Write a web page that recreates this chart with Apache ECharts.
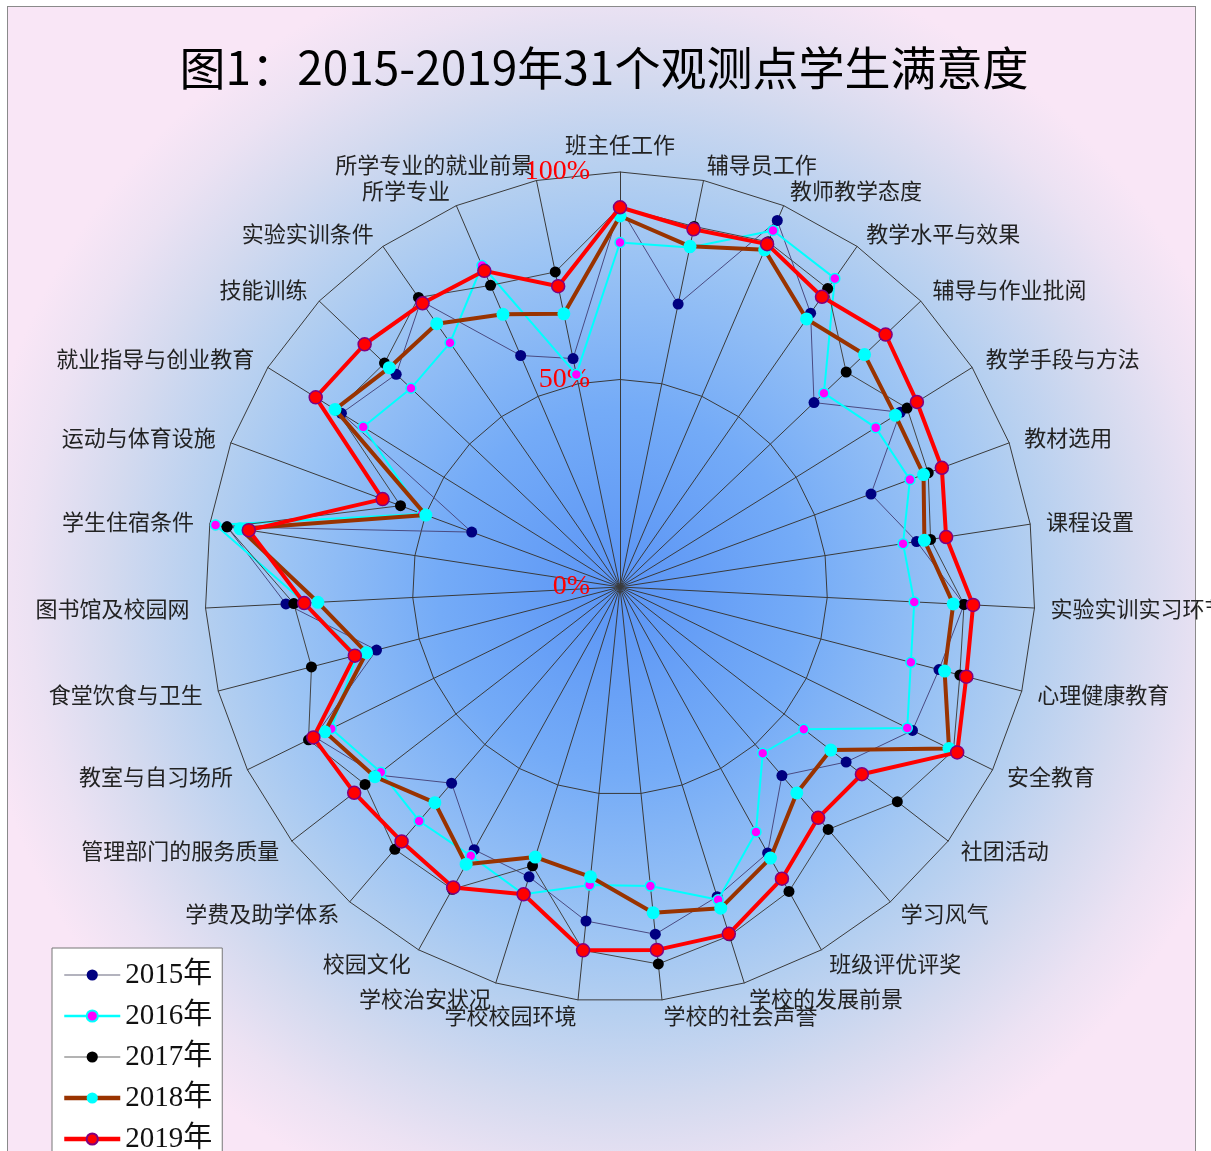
<!DOCTYPE html>
<html><head><meta charset="utf-8">
<script src="https://cdn.jsdelivr.net/npm/echarts@6/dist/echarts.min.js"></script>
<style>
html,body{margin:0;padding:0;background:#fff;width:1211px;height:1151px;overflow:hidden;}
#bg{position:absolute;left:7px;top:6px;width:1187px;height:1170px;border:1px solid #8a8a8a;
background: radial-gradient(circle 650px at 613px 584px, #5a94f5 0%, #74abf7 28%, #9cc4f4 52%, #b4cff0 64%, #d4daef 79%, #ece2f3 91%, #f9e6f6 100%);}
#chart{position:absolute;left:0;top:0;width:1211px;height:1151px;}
</style></head>
<body>
<div id="bg"></div>
<div id="chart"></div>
<script>
const indicatorNames = ['班主任工作','辅导员工作','教师教学态度','教学水平与效果','辅导与作业批阅','教学手段与方法','教材选用','课程设置','实验实训实习环节','心理健康教育','安全教育','社团活动','学习风气','班级评优评奖','学校的发展前景','学校的社会声誉','学校校园环境','学校治安状况','校园文化','学费及助学体系','管理部门的服务质量','教室与自习场所','食堂饮食与卫生','图书馆及校园网','学生住宿条件','运动与体育设施','就业指导与创业教育','技能训练','实验实训条件','所学专业','所学专业的就业前景'];
const seriesNames = ['2015年','2016年','2017年','2018年','2019年'];
const v2015 = [91.5,69.6,96.1,80.4,64.5,79.6,64.5,72.3,83.0,79.4,78.5,68.9,59.9,73.3,78.2,84.1,80.9,73.2,72.4,62.3,74.0,82.0,60.6,80.6,95.8,38.1,79.1,74.4,84.0,60.7,56.2];
const v2016 = [83.0,83.5,93.5,90.6,67.8,72.6,74.5,69.0,71.0,72.4,77.1,56.0,52.8,67.5,79.0,72.4,72.2,77.6,74.1,74.3,72.9,77.5,65.5,76.0,98.6,50.8,72.9,69.5,71.7,84.3,52.3];
const v2017 = [91.5,88.7,90.5,87.6,75.2,81.5,79.2,75.7,83.0,84.6,89.5,84.5,77.0,83.9,88.1,91.3,88.0,70.4,83.3,83.3,77.7,83.6,76.8,78.7,95.8,56.4,80.5,78.3,85.0,79.1,77.5];
const v2018 = [89.4,83.8,88.4,78.7,81.3,78.2,78.0,74.2,80.4,80.8,88.3,64.2,65.4,74.7,81.1,78.9,70.2,68.2,76.4,68.5,74.7,79.2,63.1,72.9,92.6,49.9,80.9,76.7,77.3,71.5,67.2];
const v2019 = [91.5,88.0,89.9,85.2,88.3,84.3,82.7,79.5,85.2,86.2,90.5,73.7,73.3,80.4,87.6,87.9,88.0,77.6,82.8,80.8,81.0,82.3,66.0,76.2,90.5,61.0,86.4,84.9,83.3,82.9,74.0];
const scaleMin = 0, scaleMax = 100, scaleInterval = 50;

// ECharts radar runs counter-clockwise; reorder to get clockwise layout
const order = [0];
for (let i = indicatorNames.length - 1; i >= 1; i--) order.push(i);
const reorder = arr => order.map(i => arr[i]);

const styles = [
  {line:{color:'#4a4a80',width:1}, legendLine:{color:'#9a9aa8',width:1.5}, item:{color:'#000080',borderWidth:0}, size:11},
  {line:{color:'#00ffff',width:2}, legendLine:{color:'#00ffff',width:2.5}, item:{color:'#ff00ff',borderColor:'#00ffff',borderWidth:1.5}, size:10},
  {line:{color:'#444444',width:1}, legendLine:{color:'#9a9a9a',width:1.5}, item:{color:'#000000',borderWidth:0}, size:11},
  {line:{color:'#993300',width:4}, legendLine:{color:'#993300',width:4.5}, item:{color:'#00ffff',borderWidth:0}, size:13},
  {line:{color:'#ff0000',width:4}, legendLine:{color:'#ff0000',width:4.5}, item:{color:'#ff0000',borderColor:'#800080',borderWidth:1.5}, size:13}
];
const allValues = [v2015,v2016,v2017,v2018,v2019];

const chart = echarts.init(document.getElementById('chart'), null, {renderer:'canvas'});
const legendSeries = seriesNames.map((n,i)=>({
  type:'line', name:n, xAxisIndex:0, yAxisIndex:0, data:[],
  symbol:'circle', symbolSize:styles[i].size,
  lineStyle:styles[i].legendLine, itemStyle:styles[i].item
}));
const radarSeries = seriesNames.map((n,i)=>({
  type:'radar', name:n, radarIndex:0, z:3+i,
  symbol:'circle', symbolSize:styles[i].size,
  lineStyle:styles[i].line, itemStyle:styles[i].item,
  emphasis:{disabled:true},
  data:[{name:n, value:reorder(allValues[i])}]
}));

chart.setOption({
  backgroundColor:'transparent',
  animation:false,
  title:{
    text:'图1：2015-2019年31个观测点学生满意度',
    left:599, top:40, textAlign:'center',
    textStyle:{fontSize:46, fontWeight:'normal', color:'#000', fontFamily:'Noto Sans CJK SC'}
  },
  legend:{
    data:seriesNames.map((n,i)=>({name:n, lineStyle:styles[i].legendLine})),
    orient:'vertical', left:52, top:948, height:260,
    padding:[12,10,8,10], itemGap:11, itemWidth:56, itemHeight:14,
    backgroundColor:'#ffffff', borderColor:'#777', borderWidth:1, borderRadius:0,
    textStyle:{fontSize:29, lineHeight:30, color:'#111', fontFamily:'Liberation Serif, "Noto Sans CJK SC"'},
    selectedMode:false
  },
  grid:{left:0, top:0, width:5, height:5, show:false},
  xAxis:{type:'category', show:false, data:[]},
  yAxis:{type:'value', show:false},
  polar:{center:[620,587], radius:415},
  angleAxis:{type:'value', show:false, min:0, max:360, startAngle:90},
  radiusAxis:{
    type:'value', min:scaleMin, max:scaleMax, interval:scaleInterval,
    axisLine:{show:false}, axisTick:{show:false}, splitLine:{show:false},
    axisLabel:{formatter:'{value}%', color:'#ff0000', fontSize:28, fontFamily:'Liberation Serif', margin:30}
  },
  radar:{
    center:[620,587], radius:415, startAngle:90, shape:'polygon', splitNumber:2,
    nameGap:16,
    indicator: order.map(i=>({name:indicatorNames[i], min:scaleMin, max:scaleMax})),
    axisName:{color:'#222', fontSize:22, fontFamily:'Noto Sans CJK SC'},
    axisLine:{lineStyle:{color:'#3a3a3a', width:1}},
    splitLine:{lineStyle:{color:'#3a3a3a', width:1}},
    splitArea:{show:false},
    axisTick:{show:false}, axisLabel:{show:false}
  },
  series: legendSeries.concat(radarSeries)
});
</script>
</body></html>
